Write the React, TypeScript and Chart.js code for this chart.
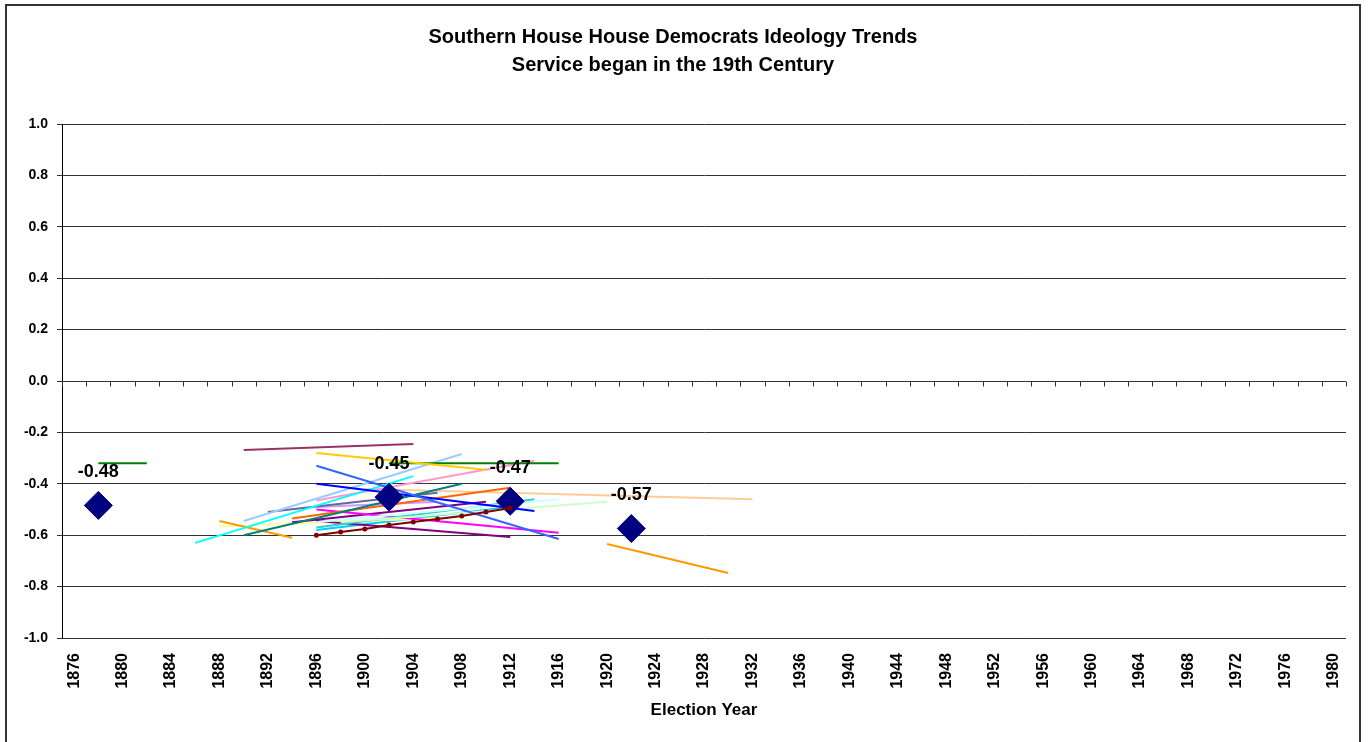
import React, { useEffect, useRef } from 'react';
import { Chart, registerables } from 'chart.js';

Chart.register(...registerables);

const FONT = '"Liberation Sans", Arial, Helvetica, sans-serif';

const TITLE_LINES = ['Southern House House Democrats Ideology Trends', 'Service began in the 19th Century'];
const X_TITLE = 'Election Year';
const X_MIN = 1875;
const X_MAX = 1981;
const X_TICK_YEARS = [1876, 1880, 1884, 1888, 1892, 1896, 1900, 1904, 1908, 1912, 1916, 1920, 1924, 1928, 1932, 1936, 1940, 1944, 1948, 1952, 1956, 1960, 1964, 1968, 1972, 1976, 1980];
const Y_TICKS = [-1.0, -0.8, -0.6, -0.4, -0.2, 0.0, 0.2, 0.4, 0.6, 0.8, 1.0];

// Cohort averages (navy diamonds with labels)
const AVG_YEARS = [1878, 1902, 1912, 1922];
const AVG_VALUES = [-0.484, -0.452, -0.468, -0.574];

// Member with every term plotted (dark red, with markers)
const DOT_YEARS = [1896, 1898, 1900, 1902, 1904, 1906, 1908, 1910, 1912];
const DOT_VALUES = [-0.6, -0.588, -0.576, -0.56, -0.549, -0.537, -0.525, -0.51, -0.494];

// Member trend lines
const TREND_START_YEARS = [1878, 1890, 1896, 1902, 1896, 1896, 1890, 1886, 1896, 1890, 1892, 1894, 1900, 1898, 1896, 1896, 1896, 1896, 1894, 1888, 1920, 1888, 1896, 1896];
const TREND_END_YEARS = [1882, 1904, 1910, 1916, 1916, 1914, 1908, 1904, 1914, 1908, 1906, 1912, 1932, 1920, 1916, 1914, 1916, 1912, 1910, 1894, 1930, 1908, 1912, 1906];
const TREND_START_VALUES = [-0.32, -0.268, -0.28, -0.32, -0.33, -0.4, -0.545, -0.63, -0.465, -0.6, -0.51, -0.535, -0.42, -0.55, -0.55, -0.57, -0.5, -0.545, -0.55, -0.545, -0.634, -0.565, -0.58, -0.49];
const TREND_END_VALUES = [-0.32, -0.245, -0.345, -0.32, -0.615, -0.506, -0.284, -0.37, -0.31, -0.4, -0.435, -0.415, -0.46, -0.47, -0.46, -0.46, -0.59, -0.607, -0.47, -0.61, -0.747, -0.53, -0.49, -0.47];
const TREND_COLORS = ['#008000', '#993366', '#FFCC00', '#008000', '#3366FF', '#0000FF', '#99CCFF', '#00FFFF', '#FF99CC', '#008080', '#666699', '#FF6600', '#FFCC99', '#CCFFCC', '#CCFFFF', '#33CCCC', '#FF00FF', '#800080', '#800080', '#FF9900', '#FF9900', '#FFFF99', '#00CCFF', '#CC99FF'];

const framePlugin = {
  id: 'frame',
  beforeDraw(chart: any) {
    const { ctx, width, height } = chart;
    ctx.save();
    ctx.fillStyle = '#ffffff';
    ctx.fillRect(0, 0, width, height);
    ctx.restore();
  },
  afterDraw(chart: any) {
    const { ctx } = chart;
    ctx.save();
    ctx.strokeStyle = '#333333';
    ctx.lineWidth = 2;
    ctx.strokeRect(6, 5, 1354, 800);
    ctx.restore();
  },
};

const zeroTicksPlugin = {
  id: 'zeroTicks',
  afterDatasetsDraw(chart: any) {
    const xs = chart.scales.x;
    const ys = chart.scales.y;
    const y0 = Math.round(ys.getPixelForValue(0)) + 0.5;
    const { ctx } = chart;
    ctx.save();
    ctx.strokeStyle = '#333333';
    ctx.lineWidth = 1;
    ctx.beginPath();
    for (let yr = X_MIN; yr <= X_MAX; yr += 2) {
      const x = Math.round(xs.getPixelForValue(yr)) + 0.5;
      ctx.moveTo(x, y0);
      ctx.lineTo(x, y0 + 5);
    }
    ctx.stroke();
    ctx.restore();
  },
};

const avgLabelPlugin = {
  id: 'avgLabels',
  afterDatasetsDraw(chart: any) {
    const meta = chart.getDatasetMeta(1);
    const { ctx } = chart;
    ctx.save();
    ctx.font = `bold 18px ${FONT}`;
    ctx.fillStyle = '#000000';
    ctx.textAlign = 'center';
    ctx.textBaseline = 'middle';
    meta.data.forEach((el: any, i: number) => {
      ctx.fillText(AVG_VALUES[i].toFixed(2), el.x, el.y - 33);
    });
    ctx.restore();
  },
};

export default function App() {
  const ref = useRef<HTMLCanvasElement | null>(null);

  useEffect(() => {
    if (!ref.current) return;
    const trendSets = TREND_START_YEARS.map((sy, i) => ({
      label: `Member ${i + 1}`,
      data: [
        { x: sy, y: TREND_START_VALUES[i] },
        { x: TREND_END_YEARS[i], y: TREND_END_VALUES[i] },
      ],
      borderColor: TREND_COLORS[i],
      backgroundColor: TREND_COLORS[i],
      borderWidth: 2,
      pointRadius: 0,
      showLine: true,
      fill: false,
      tension: 0,
    }));

    const chart = new Chart(ref.current, {
      type: 'line',
      data: {
        datasets: [
          {
            label: 'Member terms',
            data: DOT_YEARS.map((x, i) => ({ x, y: DOT_VALUES[i] })),
            borderColor: '#800000',
            backgroundColor: '#800000',
            borderWidth: 2,
            pointRadius: 2.5,
            pointBorderWidth: 0,
            showLine: true,
            fill: false,
            tension: 0,
          },
          {
            label: 'Average',
            data: AVG_YEARS.map((x, i) => ({ x, y: AVG_VALUES[i] })),
            borderColor: '#000080',
            backgroundColor: '#000080',
            pointStyle: 'rectRot',
            pointRadius: 14,
            pointBorderWidth: 1,
            showLine: false,
          },
          ...trendSets,
        ] as any,
      },
      options: {
        responsive: false,
        animation: false,
        devicePixelRatio: 1,
        layout: { padding: { left: 0, right: 23, top: 0, bottom: 0 } },
        plugins: {
          legend: { display: false },
          tooltip: { enabled: false },
          title: {
            display: true,
            text: TITLE_LINES,
            color: '#000000',
            font: { family: FONT, size: 20, weight: 'bold', lineHeight: 1.4 },
            padding: { top: 23, bottom: 45 },
          },
        },
        scales: {
          x: {
            type: 'linear',
            min: X_MIN,
            max: X_MAX,
            afterBuildTicks: (scale: any) => {
              scale.ticks = X_TICK_YEARS.map((v) => ({ value: v }));
            },
            afterFit: (scale: any) => {
              scale.height = 104;
            },
            grid: { display: false, drawTicks: false },
            border: { display: false },
            ticks: {
              autoSkip: false,
              minRotation: 90,
              maxRotation: 90,
              padding: 15,
              color: '#000000',
              font: { family: FONT, size: 16, weight: 'bold' },
              callback: (v: any) => String(v),
            },
            title: {
              display: true,
              text: X_TITLE,
              color: '#000000',
              font: { family: FONT, size: 17, weight: 'bold' },
              padding: { top: 4, bottom: 21 },
            },
          },
          y: {
            type: 'linear',
            min: -1,
            max: 1,
            afterBuildTicks: (scale: any) => {
              scale.ticks = Y_TICKS.map((v) => ({ value: v }));
            },
            afterFit: (scale: any) => {
              scale.width = 62;
            },
            grid: { color: '#333333', lineWidth: 1, tickLength: 5 },
            border: { color: '#000000', width: 1 },
            ticks: {
              padding: 9,
              color: '#000000',
              font: { family: FONT, size: 14, weight: 'bold' },
              callback: (v: any) => Number(v).toFixed(1),
            },
          },
        },
      } as any,
      plugins: [framePlugin, zeroTicksPlugin, avgLabelPlugin],
    });
    return () => chart.destroy();
  }, []);

  return (
    <div style={{ position: 'fixed', left: 0, top: 0, width: 1369, height: 742, background: '#ffffff' }}>
      <canvas ref={ref} width={1369} height={742} style={{ display: 'block' }} />
    </div>
  );
}
